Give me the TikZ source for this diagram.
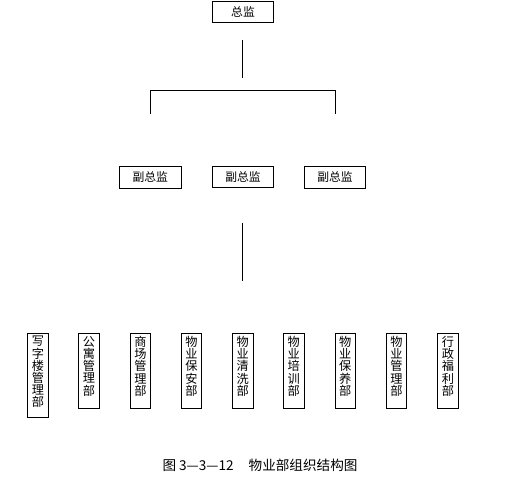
\documentclass[tikz,border=0pt]{standalone}
\usepackage{fontspec}
\setmainfont{Noto Sans CJK SC}
\begin{document}
\begin{tikzpicture}[x=1pt,y=-1pt,
  box/.style={draw=black, line width=0.9pt, inner sep=0pt, fill=white},
  vtext/.style={anchor=north, inner sep=0pt, align=center, font=\fontsize{12.2}{12.2}\selectfont},
  htext/.style={font=\fontsize{11.8}{13}\selectfont},
  wire/.style={draw=black, line width=0.9pt}]
\useasboundingbox (0,0) rectangle (515,489);
% top
\node[box, minimum width=61.4, minimum height=21, htext] (top) at (243,11.8) {总监};
% deputies
\node[box, minimum width=62, minimum height=22.3, htext] (dep1) at (150.3,177.2) {副总监};
\node[box, minimum width=61.4, minimum height=21.7, htext] (dep2) at (243,176.9) {副总监};
\node[box, minimum width=61.4, minimum height=22.3, htext] (dep3) at (335,177.2) {副总监};
% connector coordinates
\coordinate (c1) at (242.3,40);
\coordinate (c2) at (242.3,77.7);
\coordinate (h1) at (150.3,113.7);
\coordinate (h2) at (150.3,90);
\coordinate (h3) at (335.3,90);
\coordinate (h4) at (335.3,113.7);
\coordinate (m1) at (242.3,222.7);
\coordinate (m2) at (242.3,281.3);
\draw[wire] (c1) -- (c2);
\draw[wire] (h1) -- (h2) -- (h3) -- (h4);
\draw[wire] (m1) -- (m2);
% departments
\node[box, minimum width=21.4, minimum height=84.3] (d1) at (38,375.2) {};
\node[vtext] (t1) at ([yshift=-3.5]d1.north) {写\\字\\楼\\管\\理\\部};
\node[box, minimum width=21.4, minimum height=75.3] (d2) at (89,370.7) {};
\node[vtext] (t2) at ([yshift=-3.5]d2.north) {公\\寓\\管\\理\\部};
\node[box, minimum width=20.4, minimum height=75.3] (d3) at (140.5,370.7) {};
\node[vtext] (t3) at ([yshift=-3.5]d3.north) {商\\场\\管\\理\\部};
\node[box, minimum width=20.4, minimum height=75.3] (d4) at (191.5,370.7) {};
\node[vtext] (t4) at ([yshift=-3.5]d4.north) {物\\业\\保\\安\\部};
\node[box, minimum width=20.7, minimum height=75.3] (d5) at (242.7,370.7) {};
\node[vtext] (t5) at ([yshift=-3.5]d5.north) {物\\业\\清\\洗\\部};
\node[box, minimum width=21, minimum height=75.3] (d6) at (293.8,370.7) {};
\node[vtext] (t6) at ([yshift=-3.5]d6.north) {物\\业\\培\\训\\部};
\node[box, minimum width=20.7, minimum height=75.3] (d7) at (345.3,370.7) {};
\node[vtext] (t7) at ([yshift=-3.5]d7.north) {物\\业\\保\\养\\部};
\node[box, minimum width=20.4, minimum height=75.3] (d8) at (396.5,370.7) {};
\node[vtext] (t8) at ([yshift=-3.5]d8.north) {物\\业\\管\\理\\部};
\node[box, minimum width=21.4, minimum height=75.3] (d9) at (448,370.7) {};
\node[vtext] (t9) at ([yshift=-3.5]d9.north) {行\\政\\福\\利\\部};
% caption
\node[inner sep=0pt, font=\fontsize{13.6}{16}\selectfont] (cap) at (260,465.8) {图 3—3—12\hspace{1.1em}物业部组织结构图};
\end{tikzpicture}
\end{document}
